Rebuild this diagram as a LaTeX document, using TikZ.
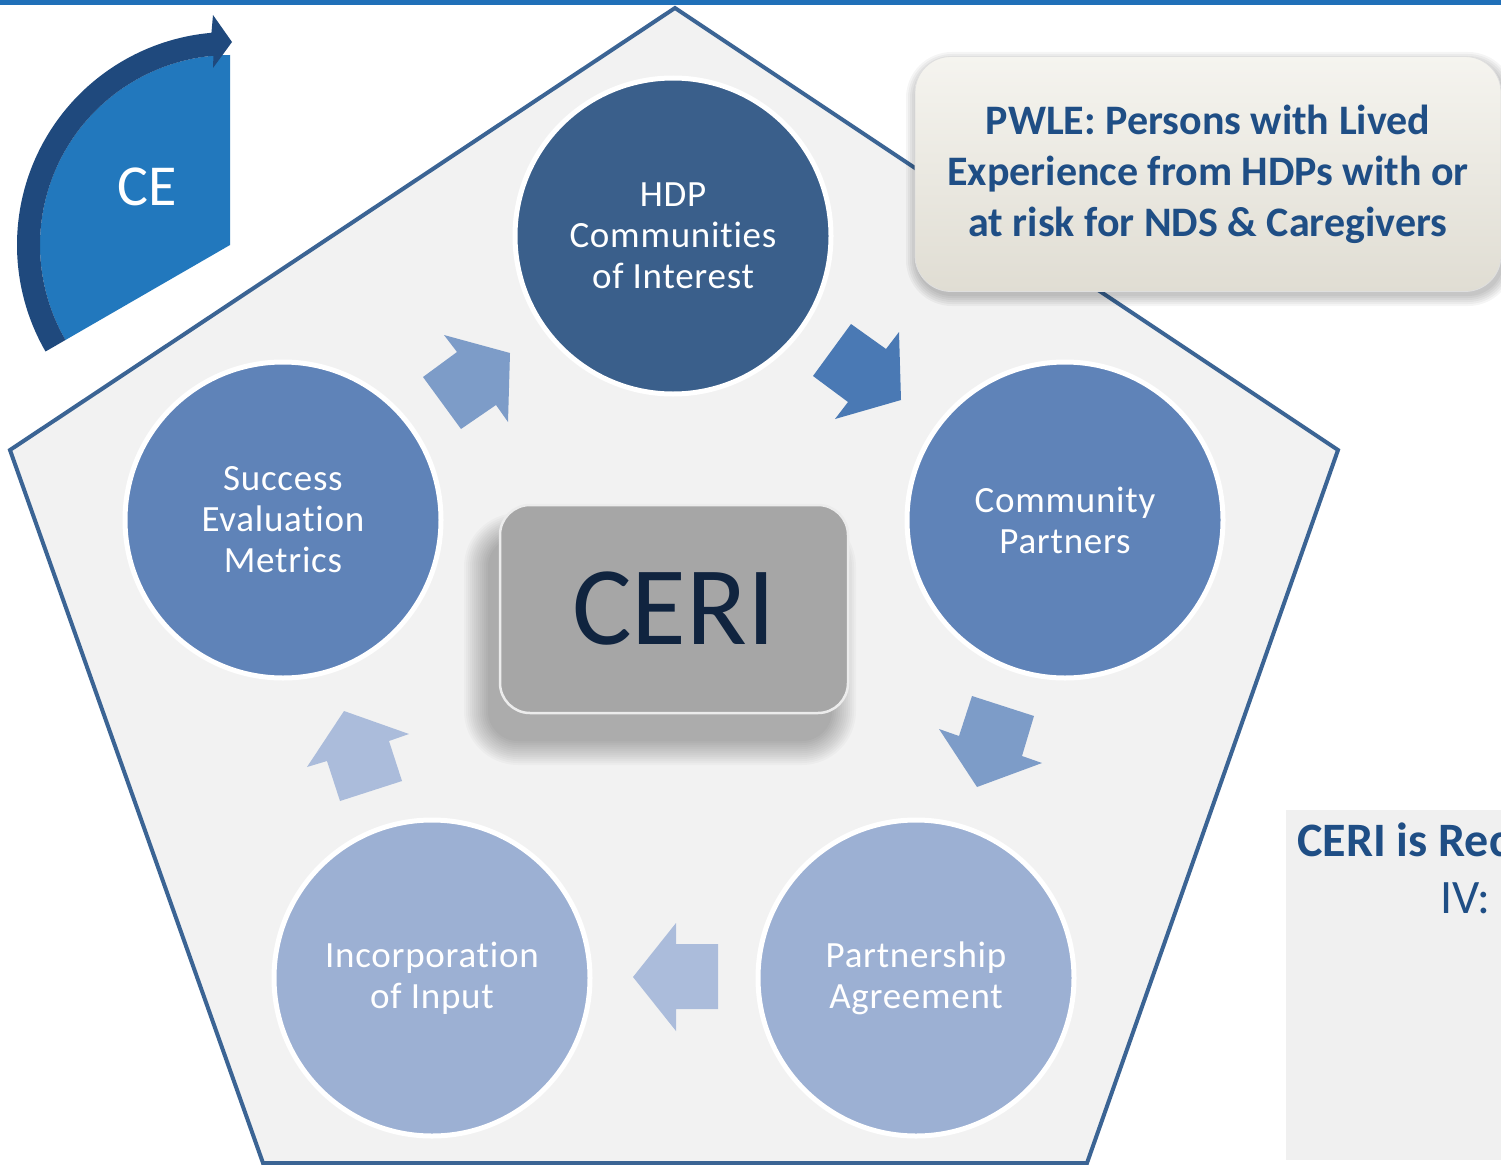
\documentclass[tikz,border=0pt]{standalone}
\usepackage{fontspec}
\setmainfont{Carlito}[Ligatures=NoCommon]
\usetikzlibrary{calc}
\definecolor{barblue}{HTML}{2070B8}
\definecolor{cefill}{HTML}{2278BD}
\definecolor{ceband}{HTML}{1F497D}
\definecolor{pentfill}{HTML}{F2F2F2}
\definecolor{pentline}{HTML}{3B6494}
\definecolor{cdark}{HTML}{3A5F8B}
\definecolor{cmid}{HTML}{5F83B8}
\definecolor{clight}{HTML}{9CB0D3}
\definecolor{amid}{HTML}{7D9CC8}
\definecolor{adark}{HTML}{4A79B4}
\definecolor{alight}{HTML}{ABBCDB}
\definecolor{cerifill}{HTML}{A6A6A6}
\definecolor{ceritext}{HTML}{10243F}
\definecolor{textblue}{HTML}{1F4E85}
\definecolor{pwtop}{HTML}{F5F4EF}
\definecolor{pwbot}{HTML}{E0DDD3}
\definecolor{boxgray}{HTML}{F0F0F0}
\tikzset{
  circ/.style={circle, minimum size=316pt, inner sep=0pt, draw=white, line width=5pt,
    text=white, align=center, font=\fontsize{37}{41}\selectfont\addfontfeature{LetterSpace=2}},
  blockarrow/.style={draw=none}
}
\begin{document}
\begin{tikzpicture}[x=1pt,y=-1pt]
\useasboundingbox (0,0) rectangle (1501,1164);
\fill[white] (0,0) rectangle (1501,1164);
\fill[barblue] (0,0) rectangle (1501,5.5);
% CE sector with curved arrow
\fill[cefill] (230,245) -- (230,55) arc[start angle=270,end angle=150,radius=190] -- cycle;
\fill[ceband] ($(230,245)+(150:213)$) arc[start angle=150,end angle=265,radius=213]
  -- (213,15) -- (232,42) -- (213,68) -- ($(230,245)+(265:190)$)
  arc[start angle=265,end angle=150,radius=190] -- cycle;
\node[text=white, font=\fontsize{58}{60}\selectfont] (ce) at (147,187) {CE};
% pentagon
\filldraw[fill=pentfill, draw=pentline, line width=4pt, line join=miter]
  (675,8) -- (1338,450) -- (1087,1163) -- (263,1163) -- (10,450) -- cycle;
% circles
\node[circ, fill=cdark] (hdp) at (673,236) {HDP\\Communities\\of Interest};
\node[circ, fill=cmid] (cp) at (1065,520) {Community\\Partners};
\node[circ, fill=clight] (pa) at (916,978) {Partnership\\Agreement};
\node[circ, fill=clight] (ii) at (432,978) {Incorporation\\of Input};
\node[circ, fill=cmid] (sem) at (283,520) {Success\\Evaluation\\Metrics};
% block arrows
\fill[blockarrow, amid] (444,335) -- (457,352) -- (423,377) -- (461,429) -- (496,405) -- (508,422) -- (510,353) -- cycle;
\fill[blockarrow, adark] (851,324) -- (886,349) -- (899,332) -- (901,400) -- (835,419) -- (848,402) -- (813,376) -- cycle;
\fill[blockarrow, amid] (972,696) -- (1034,716) -- (1022,756) -- (1042,763) -- (977,787) -- (939,729) -- (959,736) -- cycle;
\fill[blockarrow, alight] (633,977) -- (676,923) -- (676,944) -- (718,944) -- (718,1009) -- (676,1009) -- (676,1031) -- cycle;
\fill[blockarrow, alight] (344,711) -- (409,734) -- (389,741) -- (402,781) -- (340,801) -- (327,761) -- (307,767) -- cycle;
% CERI shadow
\foreach \i in {0,2,...,24} {
  \fill[black, opacity=0.022, rounded corners={30pt+\i pt}] (488-\i,537-\i) rectangle (832+\i,741+\i);
}
\node[draw=white!85!gray, line width=2.5pt, fill=cerifill, rounded corners=30pt,
  minimum width=348pt, minimum height=208pt, inner sep=0pt,
  text=ceritext, font=\fontsize{112}{120}\selectfont] (ceri) at (674,609) {CERI};
% PWLE box
\foreach \i in {0,2,...,10} {
  \fill[black, opacity=0.04, rounded corners={36pt+\i pt}] (916-\i,62-\i) rectangle (1504+\i,296+\i);
}
\node[draw=white!75!gray, line width=0.8pt, top color=pwtop, bottom color=pwbot,
  rounded corners=36pt, minimum width=586pt, minimum height=235pt, inner sep=0pt,
  align=center, text=textblue, font=\bfseries\fontsize{42}{51}\selectfont] (pwle) at (1208,174)
  {PWLE: Persons with Lived\\Experience from HDPs with or\\at risk for NDS \& Caregivers};
% bottom right box
\fill[boxgray] (1286,810) rectangle (1501,1160);
\begin{scope}
\clip (1286,810) rectangle (1501,1160);
\node[anchor=base west, inner sep=0pt, text=textblue, font=\bfseries\fontsize{48}{52}\selectfont] (ceriis) at (1297,856) {CERI is Rec};
\node[anchor=base west, inner sep=0pt, text=textblue, font=\fontsize{48}{52}\selectfont] (iv) at (1440,913) {IV:};
\end{scope}
\end{tikzpicture}
\end{document}
